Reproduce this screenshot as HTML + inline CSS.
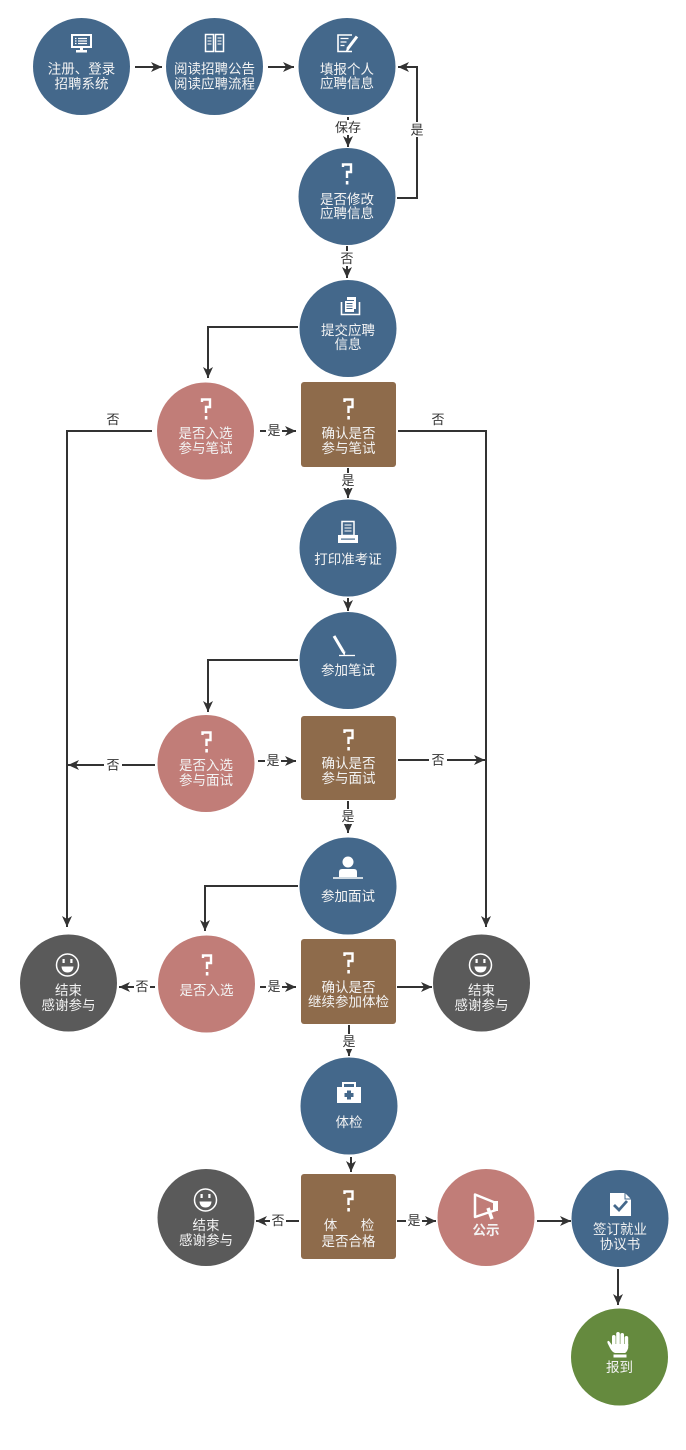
<!DOCTYPE html>
<html><head><meta charset="utf-8">
<style>
html,body{margin:0;padding:0;background:#fff;}
svg{display:block;}
text{font-family:"Liberation Sans","Noto Sans CJK SC",sans-serif;}
.n{fill:#f3f3f3;font-size:13.5px;text-anchor:middle;}
.l{fill:#333;font-size:13px;text-anchor:middle;}
.ln{stroke:#333;stroke-width:2;fill:none;}
.q{stroke:#fff;stroke-width:2.4;fill:none;stroke-linejoin:miter;}
.bl{fill:#44688b;}
.pk{fill:#c17d78;}
.br{fill:#8e6b4b;}
.gy{fill:#5a5a5a;}
.gr{fill:#658a3e;}
.w{fill:#fff;}
.ws{stroke:#fff;fill:none;}
</style></head><body>
<svg width="686" height="1450" viewBox="0 0 686 1450" xmlns="http://www.w3.org/2000/svg">
<defs>
<marker id="a" markerUnits="userSpaceOnUse" markerWidth="12" markerHeight="10" refX="11" refY="5" orient="auto">
<path d="M0,0 L11,5 L0,10 L3,5 z" fill="#333"/>
</marker>
</defs>

<!-- ===== connectors ===== -->
<path class="ln" d="M135,67 H162" marker-end="url(#a)"/>
<path class="ln" d="M268,67 H294" marker-end="url(#a)"/>
<path class="ln" d="M348,117 V147" marker-end="url(#a)"/>
<path class="ln" d="M397,198 H417 V67 H398" marker-end="url(#a)"/>
<path class="ln" d="M347,246 V278" marker-end="url(#a)"/>
<path class="ln" d="M298,327 H208 V378" marker-end="url(#a)"/>
<path class="ln" d="M152,431 H67 V927" marker-end="url(#a)"/>
<path class="ln" d="M260,431 H296" marker-end="url(#a)"/>
<path class="ln" d="M398,431 H486 V927" marker-end="url(#a)"/>
<path class="ln" d="M348,468 V498" marker-end="url(#a)"/>
<path class="ln" d="M348,598 V611" marker-end="url(#a)"/>
<path class="ln" d="M298,660 H208 V712" marker-end="url(#a)"/>
<path class="ln" d="M155,765 H68" marker-end="url(#a)"/>
<path class="ln" d="M258,761 H296" marker-end="url(#a)"/>
<path class="ln" d="M398,760 H485" marker-end="url(#a)"/>
<path class="ln" d="M348,801 V833" marker-end="url(#a)"/>
<path class="ln" d="M298,886 H205 V931" marker-end="url(#a)"/>
<path class="ln" d="M155,987 H119" marker-end="url(#a)"/>
<path class="ln" d="M260,987 H296" marker-end="url(#a)"/>
<path class="ln" d="M397,987 H432" marker-end="url(#a)"/>
<path class="ln" d="M349,1025 V1056" marker-end="url(#a)"/>
<path class="ln" d="M351,1157 V1172" marker-end="url(#a)"/>
<path class="ln" d="M299,1221 H256" marker-end="url(#a)"/>
<path class="ln" d="M397,1221 H436" marker-end="url(#a)"/>
<path class="ln" d="M537,1221 H571" marker-end="url(#a)"/>
<path class="ln" d="M618,1269 V1305" marker-end="url(#a)"/>

<!-- connector labels -->
<rect x="333" y="120" width="30" height="15" fill="#fff"/><text class="l" x="348" y="132">保存</text>
<rect x="410" y="122" width="15" height="15" fill="#fff"/><text class="l" x="417" y="134.5">是</text>
<rect x="340" y="251" width="15" height="15" fill="#fff"/><text class="l" x="347" y="263">否</text>
<text class="l" x="113" y="424">否</text>
<rect x="266" y="423" width="16" height="15" fill="#fff"/><text class="l" x="274" y="435">是</text>
<text class="l" x="438" y="424">否</text>
<rect x="341" y="473" width="15" height="15" fill="#fff"/><text class="l" x="348" y="485">是</text>
<rect x="104" y="757" width="18" height="15" fill="#fff"/><text class="l" x="113" y="769.5">否</text>
<rect x="265" y="753" width="16" height="15" fill="#fff"/><text class="l" x="273" y="765">是</text>
<rect x="429" y="752" width="18" height="15" fill="#fff"/><text class="l" x="438" y="764.5">否</text>
<rect x="341" y="809" width="15" height="15" fill="#fff"/><text class="l" x="348" y="821">是</text>
<rect x="134" y="979" width="16" height="15" fill="#fff"/><text class="l" x="142" y="991">否</text>
<rect x="266" y="979" width="16" height="15" fill="#fff"/><text class="l" x="274" y="991">是</text>
<rect x="342" y="1034" width="15" height="15" fill="#fff"/><text class="l" x="349" y="1046">是</text>
<rect x="270" y="1213" width="16" height="15" fill="#fff"/><text class="l" x="278" y="1225">否</text>
<rect x="406" y="1213" width="16" height="15" fill="#fff"/><text class="l" x="414" y="1225">是</text>

<!-- ===== nodes ===== -->
<!-- C1 -->
<circle class="bl" cx="81.5" cy="66.5" r="48.5"/>
<rect x="72" y="35" width="19" height="12" class="ws" stroke-width="2"/>
<path d="M75,38.5h1.5M78,38.5h9M75,41h1.5M78,41h9M75,43.5h1.5M78,43.5h9" stroke="#fff" stroke-width="1.3"/>
<rect x="80" y="47" width="3" height="3" class="w"/>
<rect x="76" y="50" width="11" height="2.5" class="w"/>
<text class="n" x="81.5" y="73.5">注册、登录</text>
<text class="n" x="81.5" y="88.5">招聘系统</text>

<!-- C2 -->
<circle class="bl" cx="214.5" cy="66.5" r="48.5"/>
<rect x="205.5" y="34.5" width="8" height="17" class="ws" stroke-width="1.5"/>
<rect x="215.5" y="34.5" width="8" height="17" class="ws" stroke-width="1.5"/>
<path d="M207.5,38h4M207.5,41h4M207.5,44h4M217.5,38h4M217.5,41h4M217.5,44h4" stroke="#fff" stroke-width="1"/>
<text class="n" x="214.5" y="73.5">阅读招聘公告</text>
<text class="n" x="214.5" y="88.5">阅读应聘流程</text>

<!-- C3 -->
<circle class="bl" cx="347" cy="66.5" r="48.5"/>
<path d="M352,35 H338 V51.5 H352" class="ws" stroke-width="1.6"/>
<path d="M340.5,38.5h8M340.5,42h6M340.5,45.5h4" stroke="#fff" stroke-width="1.3"/>
<path d="M357,36.5 L347.5,49" stroke="#fff" stroke-width="3"/>
<path d="M347,48 L345.5,52 L349,50 z" class="w"/>
<text class="n" x="347" y="74">填报个人</text>
<text class="n" x="347" y="88">应聘信息</text>

<!-- C4 -->
<circle class="bl" cx="347" cy="196.5" r="48.5"/>
<path class="q" d="M343,167 V164.5 H351 V172 H347 V178"/>
<rect x="345.8" y="181" width="2.6" height="3.5" class="w"/>
<text class="n" x="347" y="204">是否修改</text>
<text class="n" x="347" y="218">应聘信息</text>

<!-- C5 -->
<circle class="bl" cx="348" cy="328.5" r="48.5"/>
<path d="M341.5,302 V314.5 H359.5 V302" class="ws" stroke-width="1.6"/>
<rect x="347" y="297" width="9" height="12" class="w"/>
<rect x="344" y="300" width="10" height="12" fill="#44688b"/>
<rect x="345" y="301" width="9" height="11" class="w"/>
<path d="M346.5,303.5h6M346.5,306h6M346.5,308.5h6" stroke="#44688b" stroke-width="1"/>
<text class="n" x="348" y="335">提交应聘</text>
<text class="n" x="348" y="349">信息</text>

<!-- P1 -->
<circle class="pk" cx="205.5" cy="431" r="48.5"/>
<path class="q" d="M202,402 V399.5 H210 V407 H206 V413"/>
<rect x="204.8" y="416" width="2.6" height="3.5" class="w"/>
<text class="n" x="205.5" y="438">是否入选</text>
<text class="n" x="205.5" y="453">参与笔试</text>

<!-- B1 -->
<rect class="br" x="301" y="382" width="95" height="85" rx="3"/>
<path class="q" d="M344.5,402 V399.5 H352.5 V407 H348.5 V413"/>
<rect x="347.3" y="416" width="2.6" height="3.5" class="w"/>
<text class="n" x="348.5" y="438">确认是否</text>
<text class="n" x="348.5" y="453">参与笔试</text>

<!-- C6 -->
<circle class="bl" cx="348" cy="548" r="48.5"/>
<rect x="342" y="521.5" width="12" height="14" class="ws" stroke-width="1.5"/>
<path d="M344.5,525h7M344.5,528h7M344.5,531h7" stroke="#fff" stroke-width="1"/>
<rect x="338" y="535" width="20" height="8" class="w"/>
<rect x="341" y="538.5" width="14" height="1.2" fill="#44688b"/>
<text class="n" x="348" y="564">打印准考证</text>

<!-- C7 -->
<circle class="bl" cx="348" cy="660.5" r="48.5"/>
<path d="M334,636 L343.5,652" stroke="#fff" stroke-width="3"/>
<path d="M342,652 L344.5,656 L345.5,651.5 z" class="w"/>
<path d="M339,655.5 H355" stroke="#fff" stroke-width="1.3"/>
<text class="n" x="348" y="675">参加笔试</text>

<!-- P2 -->
<circle class="pk" cx="206" cy="763.5" r="48.5"/>
<path class="q" d="M202.5,735 V732.5 H210.5 V740 H206.5 V746"/>
<rect x="205.3" y="749" width="2.6" height="3.5" class="w"/>
<text class="n" x="206" y="770">是否入选</text>
<text class="n" x="206" y="785">参与面试</text>

<!-- B2 -->
<rect class="br" x="301" y="716" width="95" height="84" rx="3"/>
<path class="q" d="M344.5,733 V730.5 H352.5 V738 H348.5 V744"/>
<rect x="347.3" y="747" width="2.6" height="3.5" class="w"/>
<text class="n" x="348.5" y="768">确认是否</text>
<text class="n" x="348.5" y="783">参与面试</text>

<!-- C8 -->
<circle class="bl" cx="348" cy="886" r="48.5"/>
<circle cx="348" cy="862" r="5.5" class="w"/>
<path d="M339,877 V872 Q339,869 342,869 H354 Q357,869 357,872 V877 Z" class="w"/>
<path d="M333,878 H363" stroke="#fff" stroke-width="1.5"/>
<text class="n" x="348" y="901">参加面试</text>

<!-- G1 -->
<circle class="gy" cx="68.5" cy="983" r="48.5"/>
<circle cx="67.5" cy="965" r="11" class="ws" stroke-width="1.5"/>
<rect x="62.5" y="959" width="2.2" height="4" class="w"/>
<rect x="70.3" y="959" width="2.2" height="4" class="w"/>
<path d="M61.5,966.5 H73.5 Q73,972.5 67.5,972.5 Q62,972.5 61.5,966.5 Z" class="w"/>
<text class="n" x="68.5" y="995">结束</text>
<text class="n" x="68.5" y="1010">感谢参与</text>

<!-- P3 -->
<circle class="pk" cx="206.5" cy="984" r="48.5"/>
<path class="q" d="M203,958 V955.5 H211 V963 H207 V969"/>
<rect x="205.8" y="972" width="2.6" height="3.5" class="w"/>
<text class="n" x="206.5" y="995">是否入选</text>

<!-- B3 -->
<rect class="br" x="301" y="939" width="95" height="85" rx="3"/>
<path class="q" d="M344.5,956 V953.5 H352.5 V961 H348.5 V967"/>
<rect x="347.3" y="970" width="2.6" height="3.5" class="w"/>
<text class="n" x="348.5" y="992">确认是否</text>
<text class="n" x="348.5" y="1006.5">继续参加体检</text>

<!-- G2 -->
<circle class="gy" cx="481.5" cy="983" r="48.5"/>
<circle cx="480.5" cy="965" r="11" class="ws" stroke-width="1.5"/>
<rect x="475.5" y="959" width="2.2" height="4" class="w"/>
<rect x="483.3" y="959" width="2.2" height="4" class="w"/>
<path d="M474.5,966.5 H486.5 Q486,972.5 480.5,972.5 Q475,972.5 474.5,966.5 Z" class="w"/>
<text class="n" x="481.5" y="995">结束</text>
<text class="n" x="481.5" y="1010">感谢参与</text>

<!-- C9 -->
<circle class="bl" cx="349" cy="1106" r="48.5"/>
<rect x="343" y="1083" width="12" height="6" class="ws" stroke-width="2"/>
<rect x="337" y="1087" width="24" height="16" class="w"/>
<rect x="347" y="1090.5" width="4" height="9" fill="#44688b"/>
<rect x="344.5" y="1093" width="9" height="4" fill="#44688b"/>
<text class="n" x="349" y="1127">体检</text>

<!-- B4 -->
<rect class="br" x="301" y="1174" width="95" height="85" rx="3"/>
<path class="q" d="M344.5,1194 V1191.5 H352.5 V1199 H348.5 V1205"/>
<rect x="347.3" y="1208" width="2.6" height="3.5" class="w"/>
<text class="n" x="330.5" y="1230">体</text>
<text class="n" x="367.5" y="1230">检</text>
<text class="n" x="348.5" y="1246">是否合格</text>

<!-- G3 -->
<circle class="gy" cx="206" cy="1217.5" r="48.5"/>
<circle cx="205.5" cy="1200" r="11" class="ws" stroke-width="1.5"/>
<rect x="200.5" y="1194" width="2.2" height="4" class="w"/>
<rect x="208.3" y="1194" width="2.2" height="4" class="w"/>
<path d="M199.5,1201.5 H211.5 Q211,1207.5 205.5,1207.5 Q200,1207.5 199.5,1201.5 Z" class="w"/>
<text class="n" x="206" y="1230">结束</text>
<text class="n" x="206" y="1245">感谢参与</text>

<!-- P4 -->
<circle class="pk" cx="486" cy="1217.5" r="48.5"/>
<path d="M475,1194.5 L496,1203 V1210 L475,1217 Z" class="ws" stroke-width="2.5" stroke-linejoin="round"/>
<rect x="493" y="1201" width="5" height="10" class="w"/>
<path d="M488,1208 L492,1219" stroke="#fff" stroke-width="3.5"/>
<text class="n" x="486" y="1235" font-weight="bold">公示</text>

<!-- C10 -->
<circle class="bl" cx="620" cy="1218.5" r="48.5"/>
<path d="M610,1193 H625 L631,1199 V1216 H610 Z" class="w"/>
<path d="M625,1193 V1199 H631" stroke="#44688b" stroke-width="1" fill="none"/>
<path d="M614,1205 L619,1210 L627,1201" stroke="#44688b" stroke-width="2.8" fill="none"/>
<text class="n" x="620" y="1234">签订就业</text>
<text class="n" x="620" y="1249">协议书</text>

<!-- Green -->
<circle class="gr" cx="619.5" cy="1357" r="48.5"/>
<rect x="612" y="1335" width="3.6" height="12" rx="1.8" class="w"/>
<rect x="616.2" y="1332" width="3.6" height="14" rx="1.8" class="w"/>
<rect x="620.4" y="1333" width="3.6" height="13" rx="1.8" class="w"/>
<rect x="624.6" y="1336" width="3.6" height="11" rx="1.8" class="w"/>
<path d="M612,1344 H628.2 V1348 Q627,1352 625,1353 H615 Q612,1352 610,1348 L607.5,1343 Q607,1340.5 609,1341 L612,1345 Z" class="w"/>
<rect x="613.5" y="1354.5" width="13" height="3" class="w"/>
<text class="n" x="619.5" y="1372">报到</text>
</svg>
</body></html>
